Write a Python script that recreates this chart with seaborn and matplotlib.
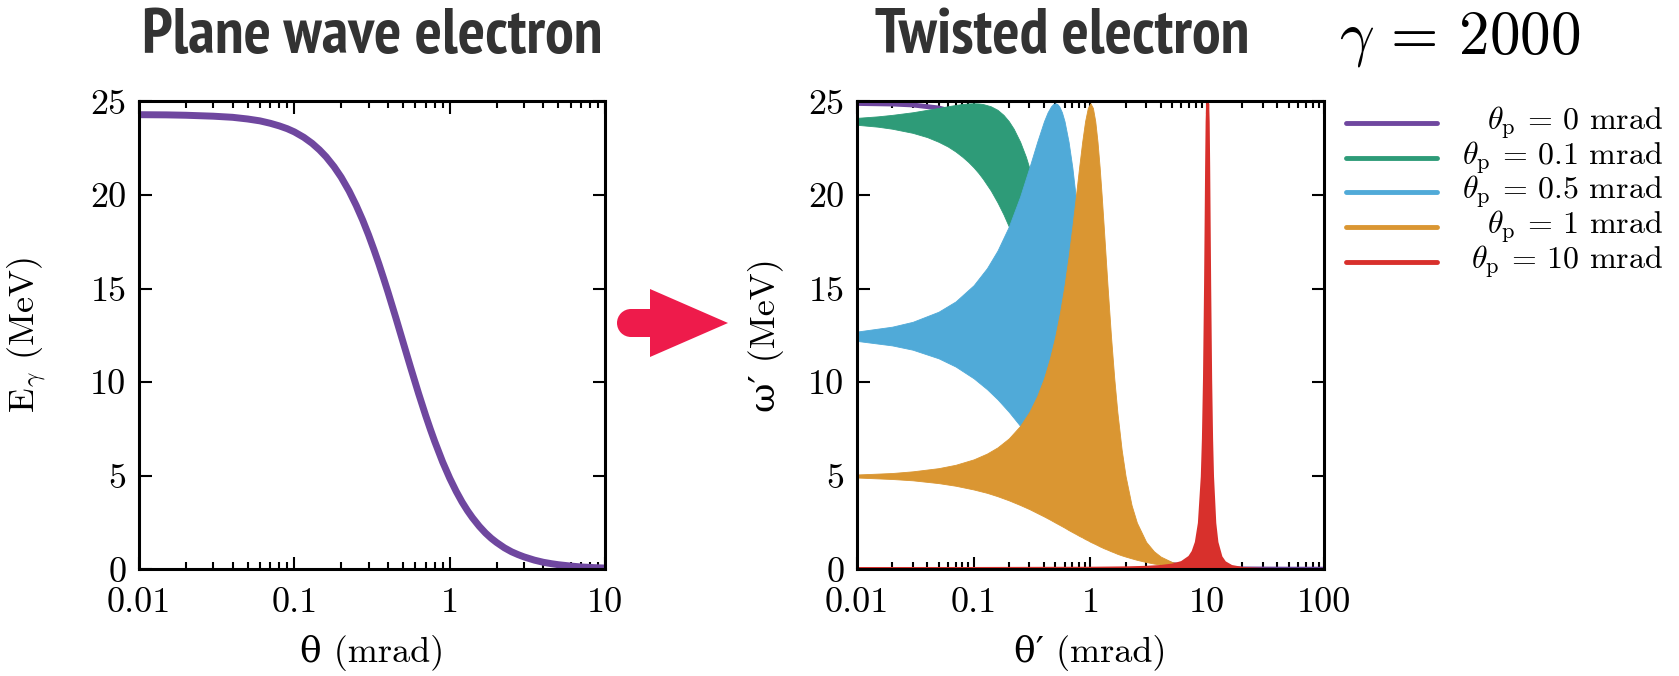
import numpy as np
import pandas as pd
import matplotlib
matplotlib.use("Agg")
import matplotlib.pyplot as plt
import seaborn as sns
from matplotlib.lines import Line2D
from matplotlib import patches
from matplotlib import font_manager as fm
from matplotlib.font_manager import FontProperties
from matplotlib.ticker import FixedLocator, FixedFormatter, LogLocator, NullFormatter

# ---------------- data ----------------
# Left panel: plane wave electron, E_gamma vs theta
theta_pw = [0.01, 0.015, 0.02, 0.03, 0.04, 0.05, 0.06, 0.07, 0.08, 0.09, 0.1, 0.115,
            0.13, 0.145, 0.16, 0.18, 0.2, 0.225, 0.25, 0.275, 0.3, 0.325, 0.35, 0.375,
            0.4, 0.45, 0.5, 0.56, 0.63, 0.7, 0.75, 0.8, 0.9, 1.0, 1.1, 1.2, 1.3, 1.4,
            1.55, 1.7, 1.85, 2.0, 2.25, 2.5, 2.75, 3.0, 3.5, 4.0, 4.5, 5.0, 6.0, 7.0,
            8.5, 10.0]
E_pw = [24.29, 24.28, 24.26, 24.21, 24.15, 24.06, 23.96, 23.83, 23.69, 23.54, 23.37,
        23.08, 22.76, 22.41, 22.04, 21.51, 20.95, 20.21, 19.44, 18.66, 17.87, 17.08,
        16.31, 15.55, 14.82, 13.43, 12.15, 10.78, 9.39, 8.21, 7.48, 6.83, 5.73, 4.86,
        4.16, 3.59, 3.13, 2.75, 2.29, 1.93, 1.65, 1.43, 1.14, 0.93, 0.78, 0.66, 0.486,
        0.37, 0.296, 0.24, 0.168, 0.12, 0.084, 0.06]

# Right panel: twisted electron, omega' range for each theta_p
# theta_p = 0 mrad (single line)
tp0_x = [0.01, 0.02, 0.03, 0.05, 0.07, 0.1, 0.15, 0.2, 0.3, 0.5, 0.7, 1.0, 1.5, 2.0,
         3.0, 5.0, 10.0, 20.0, 50.0, 100.0]
tp0_y = [24.89, 24.86, 24.81, 24.65, 24.42, 23.94, 22.84, 21.47, 18.31, 12.45, 8.41,
         4.98, 2.49, 1.46, 0.674, 0.247, 0.0621, 0.0156, 0.0025, 0.0006]

# theta_p = 0.1 mrad
tp01_x = [0.01, 0.015, 0.02, 0.03, 0.04, 0.05, 0.06, 0.07, 0.08, 0.09, 0.1, 0.11, 0.12,
          0.14, 0.16, 0.18, 0.2, 0.22, 0.25, 0.28, 0.32, 0.36, 0.4, 0.5, 0.6]
tp01_hi = [24.12, 24.20, 24.28, 24.42, 24.55, 24.65, 24.74, 24.81, 24.86, 24.89, 24.9,
           24.89, 24.86, 24.74, 24.55, 24.28, 23.94, 23.54, 22.84, 22.04, 20.86, 19.60,
           18.31, 15.18, 12.45]
tp01_lo = [23.75, 23.65, 23.54, 23.32, 23.09, 22.84, 22.59, 22.32, 22.04, 21.76, 21.47,
           21.17, 20.86, 20.24, 19.60, 18.96, 18.31, 17.66, 16.71, 15.78, 14.60, 13.49,
           12.45, 10.20, 8.41]

# theta_p = 0.5 mrad
tp05_x = [0.01, 0.02, 0.03, 0.05, 0.07, 0.1, 0.13, 0.16, 0.2, 0.25, 0.3, 0.35, 0.4,
          0.43, 0.46, 0.48, 0.5, 0.52, 0.54, 0.57, 0.6, 0.65, 0.7, 0.8, 0.9, 1.0, 1.2, 1.5]
tp05_hi = [12.70, 12.96, 13.22, 13.76, 14.31, 15.18, 16.09, 17.03, 18.31, 19.92, 21.47,
           22.84, 23.94, 24.42, 24.74, 24.86, 24.9, 24.86, 24.74, 24.42, 23.94, 22.84,
           21.47, 18.31, 15.18, 12.45, 8.41, 4.98]
tp05_lo = [12.20, 11.96, 11.73, 11.27, 10.83, 10.20, 9.62, 9.08, 8.41, 7.66, 6.99, 6.40,
           5.87, 5.58, 5.31, 5.14, 4.98, 4.82, 4.67, 4.46, 4.26, 3.96, 3.68, 3.21, 2.82,
           2.49, 1.98, 1.46]

# theta_p = 1 mrad
tp1_x = [0.01, 0.02, 0.03, 0.05, 0.07, 0.1, 0.13, 0.16, 0.2, 0.25, 0.3, 0.35, 0.4, 0.45,
         0.5, 0.55, 0.6, 0.65, 0.7, 0.75, 0.8, 0.85, 0.9, 0.95, 1.0, 1.05, 1.1, 1.15,
         1.2, 1.25, 1.3, 1.4, 1.5, 1.6, 1.7, 1.85, 2.0, 2.25, 2.5, 3.0, 3.5, 4.0, 5.0,
         6.0, 8.0, 10.0, 20.0, 50.0, 100.0]
tp1_hi = [5.06, 5.14, 5.23, 5.40, 5.58, 5.87, 6.18, 6.51, 6.99, 7.66, 8.41, 9.26, 10.20,
          11.27, 12.45, 13.76, 15.18, 16.71, 18.31, 19.92, 21.47, 22.84, 23.94, 24.65,
          24.9, 24.65, 23.94, 22.84, 21.47, 19.92, 18.31, 15.18, 12.45, 10.20, 8.41,
          6.40, 4.98, 3.43, 2.49, 1.46, 0.958, 0.674, 0.383, 0.247, 0.126, 0.077,
          0.0172, 0.0026, 0.00064]
tp1_lo = [4.90, 4.82, 4.75, 4.60, 4.46, 4.26, 4.08, 3.90, 3.68, 3.43, 3.21, 3.00, 2.82,
          2.65, 2.49, 2.35, 2.22, 2.09, 1.98, 1.88, 1.78, 1.70, 1.61, 1.54, 1.46, 1.40,
          1.34, 1.28, 1.22, 1.17, 1.12, 1.04, 0.958, 0.89, 0.82, 0.74, 0.674, 0.58,
          0.50, 0.383, 0.30, 0.247, 0.171, 0.126, 0.077, 0.051, 0.0141, 0.0024, 0.00061]

# theta_p = 10 mrad
tp10_x = [0.01, 0.1, 1.0, 2.0, 3.0, 4.0, 5.0, 6.0, 7.0, 7.5, 8.0, 8.5, 9.0, 9.2, 9.4,
          9.6, 9.7, 9.8, 9.9, 10.0, 10.1, 10.2, 10.3, 10.4, 10.6, 10.8, 11.0, 11.5,
          12.0, 13.0, 14.0, 16.0, 20.0, 30.0, 50.0, 100.0]
tp10_hi = [0.0622, 0.0634, 0.0766, 0.0969, 0.126, 0.172, 0.247, 0.383, 0.673, 0.958,
           1.46, 2.49, 4.98, 6.99, 10.20, 15.18, 18.31, 21.47, 23.94, 24.9, 23.94,
           21.47, 18.31, 15.18, 10.20, 6.99, 4.98, 2.49, 1.46, 0.673, 0.383, 0.172,
           0.0621, 0.0156, 0.0039, 0.00077]
tp10_lo = [0.0620, 0.0609, 0.0513, 0.0432, 0.0368, 0.0317, 0.0276, 0.0243, 0.0215,
           0.0203, 0.0192, 0.0182, 0.0172, 0.0169, 0.0165, 0.0162, 0.0160, 0.0159,
           0.0157, 0.0156, 0.0154, 0.0152, 0.0151, 0.0149, 0.0147, 0.0144, 0.0141,
           0.0135, 0.0129, 0.0118, 0.0108, 0.0092, 0.0069, 0.0039, 0.0017, 0.00051]

legend_labels = [r"$\theta_\mathrm{p}$ = 0 mrad", r"$\theta_\mathrm{p}$ = 0.1 mrad",
                 r"$\theta_\mathrm{p}$ = 0.5 mrad", r"$\theta_\mathrm{p}$ = 1 mrad",
                 r"$\theta_\mathrm{p}$ = 10 mrad"]
xticks_left = [0.01, 0.1, 1, 10]
xticklabels_left = ["0.01", "0.1", "1", "10"]
xticks_right = [0.01, 0.1, 1, 10, 100]
xticklabels_right = ["0.01", "0.1", "1", "10", "100"]
yticks = [0, 5, 10, 15, 20, 25]
yticklabels = ["0", "5", "10", "15", "20", "25"]

# ---------------- style ----------------
purple = "#6f479f"
green = "#2e9b78"
blue = "#50aad8"
orange = "#da9632"
red = "#d8302c"
arrow_c = "#ee1b4b"
title_c = "#333333"

sns.set_theme(style="ticks")
plt.rcParams["font.family"] = ["cmr10", "DejaVu Serif"]
plt.rcParams["mathtext.fontset"] = "cm"
plt.rcParams["axes.unicode_minus"] = False
plt.rcParams["axes.formatter.use_mathtext"] = True


def _wnum(w):
    if isinstance(w, (int, float)):
        return w
    return {"ultralight": 200, "light": 300, "normal": 400, "regular": 400,
            "book": 400, "medium": 500, "roman": 400, "semibold": 600,
            "demibold": 600, "demi": 600, "bold": 700, "heavy": 800,
            "extra bold": 800, "black": 900}.get(str(w).lower(), 400)


def pick_title_font():
    fl = [f for f in fm.fontManager.ttflist if f.style == "normal"]
    tests = [
        lambda f: "Narrow" in f.name and _wnum(f.weight) >= 700,
        lambda f: ("Condensed" in f.name or "condensed" in str(f.stretch))
        and "DejaVu" not in f.name and _wnum(f.weight) >= 700,
    ]
    for t in tests:
        c = [f for f in fl if t(f)]
        if c:
            c.sort(key=lambda f: (-("Extra" in f.name or "extra" in str(f.stretch)),
                                  -_wnum(f.weight)))
            return FontProperties(fname=c[0].fname)
    return FontProperties(family="DejaVu Sans", weight="bold", stretch="condensed")


title_fp = pick_title_font()

fig = plt.figure(figsize=(16.79, 6.76), dpi=100)
axL = fig.add_axes([0.0828, 0.158, 0.2776, 0.692])
axR = fig.add_axes([0.5104, 0.158, 0.2781, 0.692])

for ax in (axL, axR):
    ax.set_xscale("log")

# left curve
sns.lineplot(x=theta_pw, y=E_pw, ax=axL, color=purple, lw=5, estimator=None, sort=True)

# right panel
sns.lineplot(x=tp0_x, y=tp0_y, ax=axR, color=purple, lw=3.5, estimator=None, sort=True,
             zorder=1)
bands = [(tp01_x, tp01_lo, tp01_hi, green, 0.6),
         (tp05_x, tp05_lo, tp05_hi, blue, 0.6),
         (tp1_x, tp1_lo, tp1_hi, orange, 0.6),
         (tp10_x, tp10_lo, tp10_hi, red, 2.2)]
for bx, blo, bhi, c, elw in bands:
    axR.fill_between(bx, blo, bhi, facecolor=c, edgecolor=c, lw=elw, zorder=1)

for ax, xt, xtl, xmax in ((axL, xticks_left, xticklabels_left, 10),
                          (axR, xticks_right, xticklabels_right, 100)):
    ax.set_xlim(0.01, xmax)
    ax.set_ylim(0, 25)
    ax.xaxis.set_major_locator(FixedLocator(xt))
    ax.xaxis.set_major_formatter(FixedFormatter(xtl))
    ax.xaxis.set_minor_locator(LogLocator(base=10, subs=np.arange(2, 10), numticks=20))
    ax.xaxis.set_minor_formatter(NullFormatter())
    ax.yaxis.set_major_locator(FixedLocator(yticks))
    ax.yaxis.set_major_formatter(FixedFormatter(yticklabels))
    ax.tick_params(which="both", direction="in", top=True, right=True, width=1.5,
                   color="black", labelcolor="black", labelsize=26)
    ax.tick_params(which="major", length=9)
    ax.tick_params(which="minor", length=5)
    ax.tick_params(axis="x", pad=13)
    ax.tick_params(axis="y", pad=9)
    for s in ax.spines.values():
        s.set_visible(True)
        s.set_linewidth(2.2)
        s.set_color("black")
    ax.set_facecolor("white")

axL.set_xlabel("θ (mrad)", fontsize=26, color="black")
axR.set_xlabel("θ\u2032 (mrad)", fontsize=26, color="black")
axL.set_ylabel(r"$\mathrm{E}_\gamma$ (MeV)", fontsize=26, color="black")
axR.set_ylabel("ω\u2032 (MeV)", fontsize=26, color="black")
axL.xaxis.set_label_coords(0.5, -0.18)
axR.xaxis.set_label_coords(0.5, -0.18)
axL.yaxis.set_label_coords(-0.24, 0.5)
axR.yaxis.set_label_coords(-0.195, 0.5)
for ax in (axL, axR):
    ax.xaxis.label.set_va("center")
    ax.yaxis.label.set_va("center")
    ax.yaxis.label.set_ha("center")
    ax.yaxis.label.set_rotation_mode("anchor")

# titles (size adjusted so the width matches the reference)
t1 = fig.text(0.2216, 0.921, "Plane wave electron", ha="center", va="baseline",
              color=title_c, fontproperties=title_fp, fontsize=40)
t2 = fig.text(0.6325, 0.921, "Twisted electron", ha="center", va="baseline",
              color=title_c, fontproperties=title_fp, fontsize=40)
fig.canvas.draw()
w1 = t1.get_window_extent().width
new_size = 40 * 460.0 / w1
new_size = min(new_size, 62)
t1.set_fontsize(new_size)
t2.set_fontsize(new_size)

fig.text(0.8697, 0.921, r"$\gamma$ = 2000", ha="center", va="baseline",
         color="black", fontsize=44)

# legend (manual, right-aligned labels)
leg_colors = [purple, green, blue, orange, red]
leg_y = [0.8176, 0.7667, 0.7155, 0.6638, 0.6129]
for c, yy, lab in zip(leg_colors, leg_y, legend_labels):
    fig.add_artist(Line2D([0.8017, 0.8559], [yy, yy], transform=fig.transFigure,
                          color=c, lw=3.5))
    fig.text(0.9905, yy, lab, ha="right", va="center", fontsize=23, color="black")

# arrow between the panels (pixel coordinates overlay)
ov = fig.add_axes([0, 0, 1, 1], zorder=-5)
ov.set_xlim(0, 1679)
ov.set_ylim(676, 0)
ov.axis("off")
ov.add_patch(patches.Polygon([[650, 289], [728, 323], [650, 357]], closed=True,
                             facecolor=arrow_c, edgecolor="none"))
ov.add_patch(patches.Rectangle((631, 309), 24, 28, facecolor=arrow_c, edgecolor="none"))
ov.add_patch(patches.Circle((631, 323), 14, facecolor=arrow_c, edgecolor="none"))

fig.savefig("out.png", dpi=100, facecolor="white")
